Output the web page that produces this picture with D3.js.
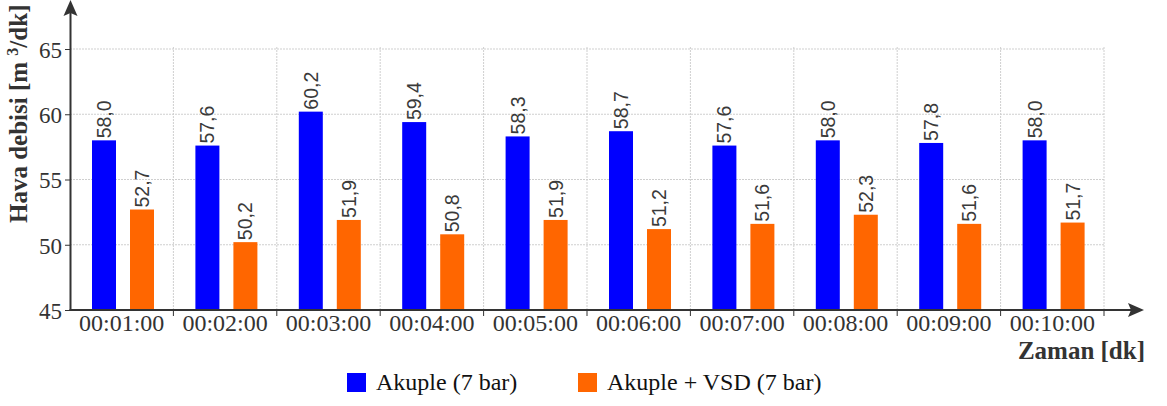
<!DOCTYPE html>
<html lang="tr">
<head>
	<meta charset="UTF-8">
	<title>Hava debisi</title>
	<style>
		body { margin: 0; background: #fff; }
		svg { display: block; font-family: "Liberation Serif", "Times New Roman", serif; }
		.grid line { stroke: #cfcfcf; stroke-dasharray: 2,1; }
	</style>
</head>
<body>
	<svg width="1167" height="406"></svg>
	<script src="https://cdn.jsdelivr.net/npm/d3@7"></script>
	<script>
		// data
		var categories = ["00:01:00","00:02:00","00:03:00","00:04:00","00:05:00",
			"00:06:00","00:07:00","00:08:00","00:09:00","00:10:00"];
		var akuple = [58.0, 57.6, 60.2, 59.4, 58.3, 58.7, 57.6, 58.0, 57.8, 58.0];
		var akupleVsd = [52.7, 50.2, 51.9, 50.8, 51.9, 51.2, 51.6, 52.3, 51.6, 51.7];
		var seriesNames = ["Akuple (7 bar)", "Akuple + VSD (7 bar)"];
		var colors = ["#0000ff", "#ff6600"];
		var yTicks = [45, 50, 55, 60, 65];

		var serif = "'Liberation Serif', 'Times New Roman', serif";
		var sans = "'Liberation Sans', Arial, sans-serif";
		var svg = d3.select("svg");
		var axisColor = "#333";

		var x = d3.scaleBand().domain(categories).range([70, 1104]).padding(0);
		var xs = d3.scaleBand().domain([0, 1]).range([22, 84]).paddingInner(14 / 38);
		var y = d3.scaleLinear().domain([45, 65]).range([310, 49]);

		// horizontal grid
		svg.append("g").attr("class", "grid")
			.selectAll("line").data(yTicks.slice(1)).enter().append("line")
			.attr("x1", 70).attr("x2", 1104)
			.attr("y1", function(d) { return y(d); })
			.attr("y2", function(d) { return y(d); });

		// vertical grid at band boundaries
		var bounds = categories.map(function(c) { return x(c) + x.bandwidth(); });
		svg.append("g").attr("class", "grid")
			.selectAll("line").data(bounds).enter().append("line")
			.attr("x1", function(d) { return d; }).attr("x2", function(d) { return d; })
			.attr("y1", y(65) - 2).attr("y2", y(45));

		// bars
		var rows = categories.map(function(c, i) { return { cat: c, vals: [akuple[i], akupleVsd[i]] }; });
		var groups = svg.append("g").selectAll("g").data(rows).enter().append("g")
			.attr("transform", function(d) { return "translate(" + x(d.cat) + ",0)"; });

		groups.selectAll("rect").data(function(d) { return d.vals; }).enter().append("rect")
			.attr("x", function(d, i) { return xs(i); })
			.attr("width", xs.bandwidth())
			.attr("y", function(d) { return y(d); })
			.attr("height", function(d) { return y(45) - y(d); })
			.attr("fill", function(d, i) { return colors[i]; });

		// value labels, rotated
		groups.selectAll("text").data(function(d) { return d.vals; }).enter().append("text")
			.attr("transform", function(d, i) {
				return "translate(" + (xs(i) + xs.bandwidth() / 2) + "," + (y(d) - 2) + ") rotate(-90)";
			})
			.attr("dy", "0.36em")
			.style("font-family", sans)
			.style("font-size", "19.5px")
			.attr("fill", "#3a3a3a")
			.text(function(d) { return d.toFixed(1).replace(".", ","); });

		// y axis
		var yAxis = d3.axisLeft(y).tickValues(yTicks).tickSize(5).tickPadding(3);
		var gy = svg.append("g").attr("transform", "translate(70,0)").call(yAxis);
		gy.select(".domain").remove();
		gy.selectAll(".tick line").attr("stroke", axisColor);
		gy.selectAll(".tick text").style("font-size", "23px").style("font-family", serif)
			.attr("fill", axisColor).attr("dy", "0.36em");

		// x axis
		var xAxis = d3.axisBottom(x).tickSize(0).tickPadding(4);
		var gx = svg.append("g").attr("transform", "translate(0,310)").call(xAxis);
		gx.select(".domain").remove();
		gx.selectAll(".tick text").style("font-size", "24px").style("font-family", serif)
			.attr("fill", axisColor);
		gx.selectAll("line.bt").data(bounds).enter().append("line").attr("class", "bt")
			.attr("x1", function(d) { return d; }).attr("x2", function(d) { return d; })
			.attr("y1", 0).attr("y2", 6).attr("stroke", axisColor);

		// axis lines with arrows
		svg.append("line").attr("x1", 70.5).attr("x2", 70.5).attr("y1", 310).attr("y2", 12)
			.attr("stroke", axisColor).attr("stroke-width", 2);
		svg.append("path").attr("d", "M70.5,0 L63.5,16 L70.5,13 L77.5,16 Z").attr("fill", axisColor);
		svg.append("line").attr("x1", 69.5).attr("x2", 1132).attr("y1", 310).attr("y2", 310)
			.attr("stroke", axisColor).attr("stroke-width", 2);
		svg.append("path").attr("d", "M1144,310 L1128,303 L1131,310 L1128,317 Z").attr("fill", axisColor);

		// axis titles
		var yt = svg.append("text")
			.attr("transform", "translate(27,223) rotate(-90)")
			.style("font-family", serif)
			.attr("font-size", 25).attr("font-weight", "bold").attr("fill", axisColor);
		yt.append("tspan").text("Hava debisi [m ");
		yt.append("tspan").attr("font-size", 16).attr("dy", -9).text("3");
		yt.append("tspan").attr("dy", 9).text("/dk]");

		svg.append("text").attr("x", 1145).attr("y", 359).attr("text-anchor", "end")
			.style("font-family", serif)
			.attr("font-size", 25).attr("font-weight", "bold").attr("fill", axisColor)
			.text("Zaman [dk]");

		// legend
		var legendX = [347, 578];
		var lg = svg.append("g").selectAll("g").data(seriesNames).enter().append("g")
			.attr("transform", function(d, i) { return "translate(" + legendX[i] + ",373)"; });
		lg.append("rect").attr("width", 19).attr("height", 19)
			.attr("fill", function(d, i) { return colors[i]; });
		lg.append("text").attr("x", 29).attr("y", 17)
			.style("font-family", serif).attr("font-size", 24).attr("fill", "#111")
			.text(function(d) { return d; });
	</script>
</body>
</html>
